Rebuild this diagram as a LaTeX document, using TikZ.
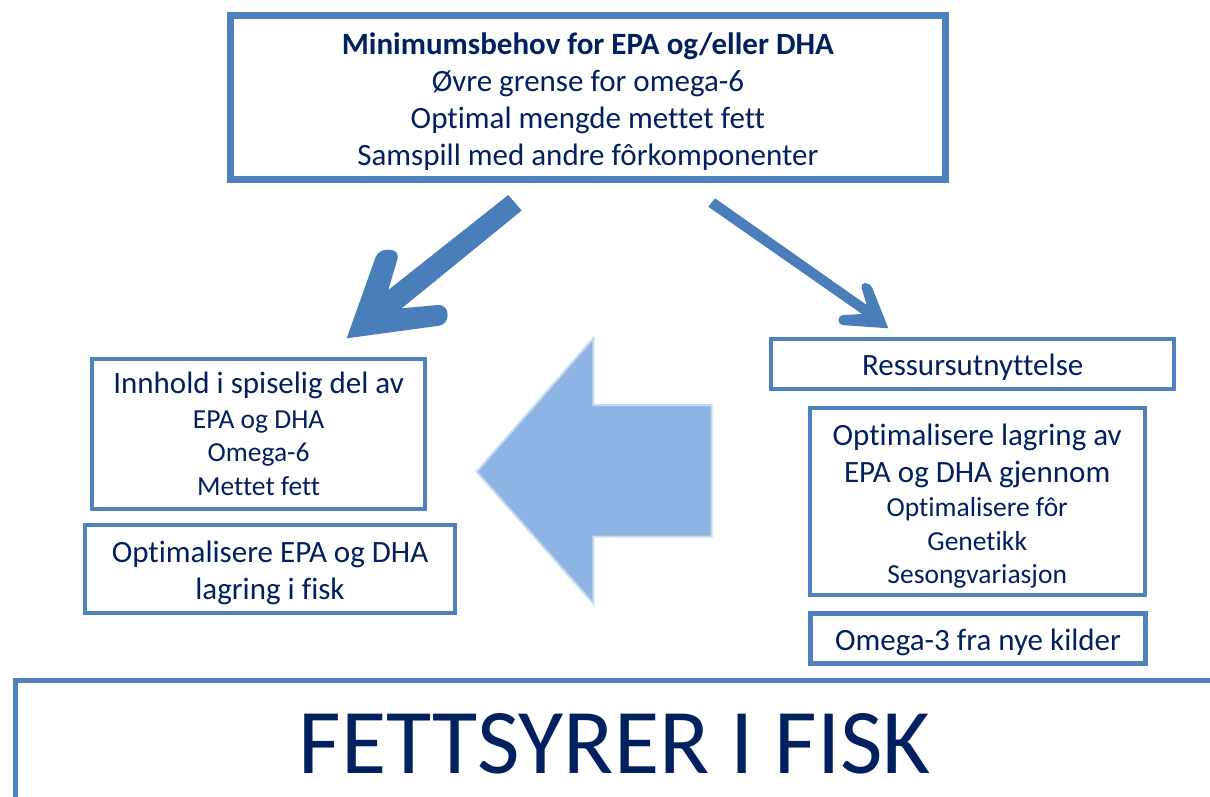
\documentclass[tikz,border=0pt]{standalone}
\usepackage{fontspec}
\setmainfont{Carlito}[Ligatures={NoCommon}]
\definecolor{boxblue}{RGB}{79,129,189}
\definecolor{arrowblue}{RGB}{74,126,187}
\definecolor{navy}{RGB}{0,32,96}
\definecolor{blockfill}{RGB}{142,180,227}
\definecolor{blockedge}{RGB}{198,217,241}
\newcommand{\fsmain}{\fontsize{31}{37}\selectfont}
\newcommand{\fssmall}{\fontsize{27.5}{33.5}\selectfont}
\newcommand{\pushdown}[1]{\rule{0pt}{#1}}
\begin{document}
\begin{tikzpicture}[x=1pt,y=-1pt,
  box/.style={draw=boxblue,line width=4pt,inner sep=0pt,align=center,text=navy},
  arrowfill/.style={fill=arrowblue}]
\useasboundingbox (0,0) rectangle (1210,796);
\fill[white] (0,0) rectangle (1210,796);

% boxes
\node[box,line width=7pt,minimum width=715.3pt,minimum height=164.6pt,font=\fsmain] (top) at (587.9,97.5)
  {\pushdown{29pt}\textbf{Minimumsbehov for EPA og/eller DHA}\\Øvre grense for omega-6\\Optimal mengde mettet fett\\Samspill med andre fôrkomponenter};

\node[box,minimum width=333.3pt,minimum height=150pt,font=\fssmall] (innhold) at (258.65,433.7)
  {{\fsmain Innhold i spiselig del av}\\[1.5pt]EPA og DHA\\Omega-6\\Mettet fett};

\node[box,minimum width=369.4pt,minimum height=87.7pt,font=\fsmain] (optepa) at (270,569.15)
  {\pushdown{29pt}Optimalisere EPA og DHA\\lagring i fisk};

\node[box,minimum width=402.7pt,minimum height=49.4pt,font=\fsmain] (ressurs) at (972.65,364)
  {\pushdown{27pt}Ressursutnyttelse};

\node[box,minimum width=335pt,minimum height=187.3pt,font=\fssmall] (optlag) at (977.2,501.65)
  {{\fsmain\pushdown{31pt}Optimalisere lagring av}\\[3pt]{\fsmain EPA og DHA gjennom}\\[1pt]Optimalisere fôr\\Genetikk\\Sesongvariasjon};

\node[box,line width=5pt,minimum width=335.6pt,minimum height=50.3pt,font=\fsmain] (omega) at (978,638.35)
  {\pushdown{29pt}Omega-3 fra nye kilder};

\node[box,line width=5pt,minimum width=1300pt,minimum height=200pt,anchor=north west] (bottom) at (12.5,677.5) {};
\node[text=navy,font=\fontsize{92.5}{110}\selectfont,anchor=base,inner sep=0pt] (title) at (615,773.3) {FETTSYRER I FISK};

% big block arrow (right to left)
\fill[blockfill,draw=blockedge,line width=2pt] (476.7,471.7) -- (593.3,338.3) -- (593.3,405) -- (711.7,405)
  -- (711.7,536.7) -- (593.3,536.7) -- (593.3,603.3) -- cycle;

% thick arrow from top box to the left
\coordinate (Ltail1) at (508.3,195);
\coordinate (Ltail2) at (521.7,210.5);
\coordinate (Ltip) at (346.7,338.3);
\coordinate (LWo) at (378.5,249);
\coordinate (LWi) at (400,250.5);
\coordinate (LIn) at (388.3,290);
\coordinate (LIn2) at (401.7,308.3);
\coordinate (RWt) at (447,304.2);
\coordinate (RWb) at (448,324.5);
\fill[arrowfill] (Ltip) [rounded corners=9pt] -- (LWo) -- (LWi) [sharp corners] -- (LIn) -- (Ltail1) -- (Ltail2)
  -- (LIn2) [rounded corners=9pt] -- (RWt) -- (RWb) [sharp corners] -- cycle;

% thin arrow from top box to the right
\coordinate (Rtail1) at (715,198.3);
\coordinate (Rtail2) at (708.3,206.7);
\coordinate (Rtip) at (888.3,328.3);
\coordinate (UWr) at (870.3,283);
\coordinate (UWl) at (860.1,283);
\coordinate (UIn) at (866.7,305);
\coordinate (LoIn) at (862,314);
\coordinate (LoWt) at (838.5,315.3);
\coordinate (LoWb) at (838.5,324.8);
\fill[arrowfill] (Rtip) [rounded corners=5pt] -- (UWr) -- (UWl) [sharp corners] -- (UIn) -- (Rtail1) -- (Rtail2)
  -- (LoIn) [rounded corners=4.5pt] -- (LoWt) -- (LoWb) [sharp corners] -- cycle;
\end{tikzpicture}
\end{document}
